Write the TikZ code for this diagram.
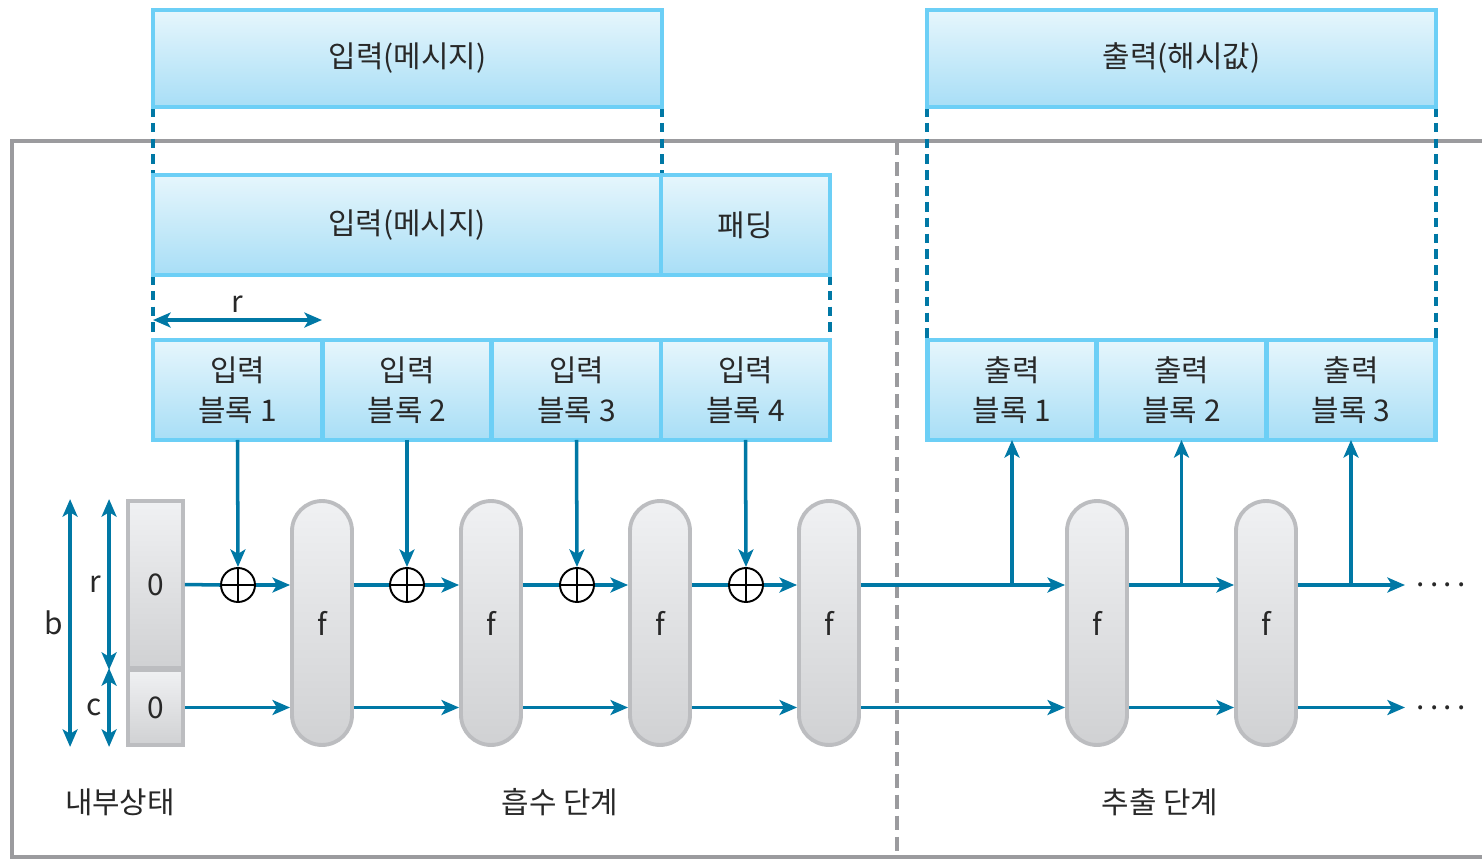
\documentclass[tikz,border=0pt]{standalone}
\usepackage{fontspec}
\setmainfont{Noto Sans CJK KR}
\usepackage{tikz}
\usetikzlibrary{arrows.meta}

\definecolor{lineblue}{RGB}{0,120,165}
\definecolor{boxedge}{RGB}{108,207,246}
\definecolor{boxtop}{RGB}{230,246,252}
\definecolor{boxbottom}{RGB}{168,222,246}
\definecolor{framegray}{RGB}{155,155,158}
\definecolor{capedge}{RGB}{188,189,192}
\definecolor{captop}{RGB}{240,241,243}
\definecolor{capbottom}{RGB}{208,209,211}
\definecolor{textgray}{RGB}{40,40,40}

\tikzset{
	databox/.style={draw=boxedge, line width=2.6pt, top color=boxtop, bottom color=boxbottom,
		minimum height=2cm, inner sep=0pt, outer sep=0pt, align=center},
	roundf/.style={draw=capedge, line width=2.2pt, top color=captop, bottom color=capbottom,
		rounded corners=0.6cm, minimum width=1.2cm, minimum height=4.88cm, inner sep=0pt},
	statebox/.style={draw=capedge, line width=2.2pt, top color=captop, bottom color=capbottom,
		minimum width=1.1cm, inner sep=0pt},
	xorop/.style={circle, draw=black, line width=1.1pt, minimum size=0.68cm, inner sep=0pt,
		path picture={\draw[black, line width=1.1pt]
			(path picture bounding box.north) -- (path picture bounding box.south)
			(path picture bounding box.west) -- (path picture bounding box.east);}},
	flow/.style={draw=lineblue, line width=2pt},
	guide/.style={draw=lineblue, line width=2pt, dash pattern=on 5.5pt off 3.5pt}
}

\newcommand{\moredots}{.\hspace{3pt}.\hspace{3pt}.\hspace{3pt}.}

\begin{document}
\begin{tikzpicture}[x=0.02cm, y=-0.02cm, >={Stealth[length=10pt,width=8.5pt,inset=2.5pt]},
		font=\fontsize{17}{23}\selectfont, text=textgray]
		\useasboundingbox (0,0) rectangle (1482,859);

		% Frame and stage divider.
		\draw[framegray, line width=2pt] (1482,141) -| (12,857) -- (1482,857);
		\draw[framegray, line width=2pt, dash pattern=on 8pt off 4pt] (897,141) -- (897,857);

		% Guides (drawn first, boxes on top).
		\coordinate (gl) at (153,107);
		\coordinate (gr) at (662,107);
		\coordinate (hl) at (927,107);
		\coordinate (hr) at (1436,107);
		\draw[guide] (gl) -- (153,175);
		\draw[guide] (gr) -- (662,175);
		\draw[guide] (153,275) -- (153,340);
		\draw[guide] (830,275) -- (830,340);
		\draw[guide] (hl) -- (927,340);
		\draw[guide] (hr) -- (1436,340);

		% Message and hash value.
		\node[databox, minimum width=10.18cm, minimum height=1.94cm] (inmsg) at (407.5,58.5) {입력(메시지)};
		\node[databox, minimum width=10.18cm, minimum height=1.94cm] (outhash) at (1181.5,58.5) {출력(해시값)};

		% Padded message.
		\node[databox, minimum width=10.16cm] (padmsg) at (407,225) {입력(메시지)};
		\node[databox, minimum width=3.38cm, anchor=west] (pad) at (padmsg.east) {패딩};

		% Input and output blocks.
		\foreach \i/\cx in {1/237.5, 2/407, 3/576.5, 4/745.5}
			\node[databox, minimum width=3.38cm] (ib\i) at (\cx,390) {입력\\블록 \i};
		\foreach \i/\cx in {1/1012, 2/1181.5, 3/1351}
			\node[databox, minimum width=3.39cm] (ob\i) at (\cx,390) {출력\\블록 \i};

		% Block width r.
		\draw[flow, <->] ([yshift=0.4cm]ib1.north west) -- node[above] (rw) {r} ([yshift=0.4cm]ib1.north east);

		% Internal state.
		\node[statebox, minimum height=3.34cm] (st1) at (155.5,584.5) {0};
		\node[statebox, minimum height=1.5cm] (st2) at (155.5,707.5) {0};
		\draw[flow, <->] ([xshift=-1.12cm]st1.north west) -- node[left] (lb) {b} ([xshift=-1.12cm]st2.south west);
		\draw[flow, <->] ([xshift=-0.34cm]st1.north west) -- node[left] (lr) {r} ([xshift=-0.34cm]st1.south west);
		\draw[flow, <->] ([xshift=-0.34cm]st2.north west) -- node[left] (lc) {c} ([xshift=-0.34cm]st2.south west);

		% Permutations and XOR.
		\foreach \i/\cx in {1/322, 2/491, 3/660, 4/829, 5/1097, 6/1266}
			\node[roundf] (f\i) at (\cx,623) {f};
		\foreach \i/\cx in {1/238, 2/407, 3/577, 4/746}
			\node[xorop] (x\i) at (\cx,585) {};

		% Absorbing.
		\draw[flow] (st1.east) -- (x1.west);
		\draw[flow, ->] (x1.east) -- (x1.east -| f1.west);
		\foreach \i/\j in {1/2, 2/3, 3/4} {
			\draw[flow] (x\j.west -| f\i.east) -- (x\j.west);
			\draw[flow, ->] (x\j.east) -- (x\j.east -| f\j.west);
		}
		\foreach \i in {1,...,4}
			\draw[flow, ->] (ib\i.south) -- (x\i.north);
		\draw[flow, ->] (st2.east) -- (st2.east -| f1.west);
		\foreach \i/\j in {1/2, 2/3, 3/4, 4/5, 5/6}
			\draw[flow, ->] (st2.east -| f\i.east) -- (st2.east -| f\j.west);

		% Squeezing.
		\coordinate (endtop) at (1405,585);
		\coordinate (endbot) at (1405,707.5);
		\draw[flow, ->] (x1.east -| f4.east) -- (x1.east -| f5.west);
		\draw[flow, ->] (x1.east -| f5.east) -- (x1.east -| f6.west);
		\draw[flow, ->] (x1.east -| f6.east) -- (endtop);
		\draw[flow, ->] (st2.east -| f6.east) -- (endbot);
		\foreach \i in {1,2,3}
			\draw[flow, ->] (x1.east -| ob\i.south) -- (ob\i.south);
		\node[right, xshift=3pt] (moretop) at (endtop) {\moredots};
		\node[right, xshift=3pt] (morebot) at (endbot) {\moredots};

		% Stage labels.
		\node (lstate) at (120,802) {내부상태};
		\node (labsorb) at (560,802) {흡수 단계};
		\node (lsqueeze) at (1160,802) {추출 단계};
	\end{tikzpicture}
\end{document}
